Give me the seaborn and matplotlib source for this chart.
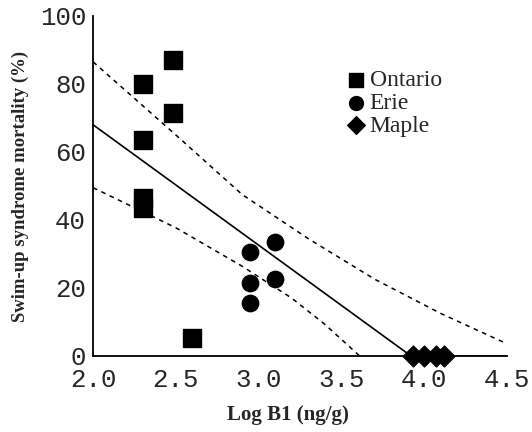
import numpy as np
import pandas as pd
import matplotlib
matplotlib.use('Agg')
import matplotlib.pyplot as plt
import seaborn as sns

# data
ontario_x = [2.3, 2.3, 2.3, 2.3, 2.48, 2.48, 2.6]
ontario_y = [80, 63.5, 46.5, 43.5, 87, 71.5, 5.3]
erie_x = [2.95, 2.95, 2.95, 3.1, 3.1]
erie_y = [30.6, 21.5, 15.5, 33.5, 22.7]
maple_x = [3.93, 4.0, 4.07, 4.12]
maple_y = [0, 0, 0, 0]

fit_x = [2.0, 3.92, 4.5]
fit_y = [68, 0, 0]
upper_x = [2.0, 2.5, 2.9, 3.3, 3.7, 4.1, 4.49]
upper_y = [86.5, 65, 47.5, 34.5, 22.6, 12.5, 3.8]
lower_x = [2.0, 2.5, 2.9, 3.2, 3.4, 3.61]
lower_y = [49.5, 37.7, 26.4, 17, 9.3, 0]

xticks = [2.0, 2.5, 3.0, 3.5, 4.0, 4.5]
yticks = [0, 20, 40, 60, 80, 100]

sns.set_style('white')

fig = plt.figure(figsize=(5.32, 4.32), dpi=100)
ax = fig.add_axes([0.175, 0.176, 0.778, 0.787])

sns.lineplot(x=fit_x, y=fit_y, ax=ax, color='black', lw=1.2, sort=False)
sns.lineplot(x=upper_x, y=upper_y, ax=ax, color='black', lw=1.1, linestyle=(0, (3, 3)), sort=False)
sns.lineplot(x=lower_x, y=lower_y, ax=ax, color='black', lw=1.1, linestyle=(0, (3, 3)), sort=False)

sns.scatterplot(x=ontario_x, y=ontario_y, ax=ax, marker='s', s=150, color='black',
                edgecolor='black', label='Ontario', clip_on=False, zorder=5)
sns.scatterplot(x=erie_x, y=erie_y, ax=ax, marker='o', s=140, color='black',
                edgecolor='black', label='Erie', clip_on=False, zorder=5)
sns.scatterplot(x=maple_x, y=maple_y, ax=ax, marker='D', s=115, color='black',
                edgecolor='black', label='Maple', clip_on=False, zorder=5)

ax.set_xlim(2.0, 4.5)
ax.set_ylim(0, 100)
ax.set_xticks(xticks)
ax.set_xticklabels([f'{t:.1f}' for t in xticks], family='Liberation Mono', fontsize=18.5)
ax.set_yticks(yticks)
ax.set_yticklabels([str(t) for t in yticks], family='Liberation Mono', fontsize=18.5)
ax.tick_params(direction='out', length=4, width=1, color='black')
ax.tick_params(axis='x', pad=5)
ax.tick_params(axis='y', pad=1)

for side in ['top', 'right']:
    ax.spines[side].set_visible(False)
for side in ['left', 'bottom']:
    ax.spines[side].set_color('black')
    ax.spines[side].set_linewidth(1.3)

ax.set_xlabel('Log B1 (ng/g)', family='Liberation Serif', fontsize=15, fontweight='bold')
ax.xaxis.set_label_coords(0.471, -0.145)
ax.set_ylabel('Swim-up syndrome mortality (%)', family='Liberation Serif', fontsize=13.5,
              fontweight='bold', labelpad=8)

leg = ax.legend(loc='upper left', bbox_to_anchor=(0.56, 0.877), frameon=False,
                prop={'family': 'Liberation Serif', 'size': 17},
                handletextpad=-0.2, handlelength=1.6, labelspacing=0.05, borderpad=0,
                markerscale=0.85)

fig.savefig('out.png', dpi=100)
